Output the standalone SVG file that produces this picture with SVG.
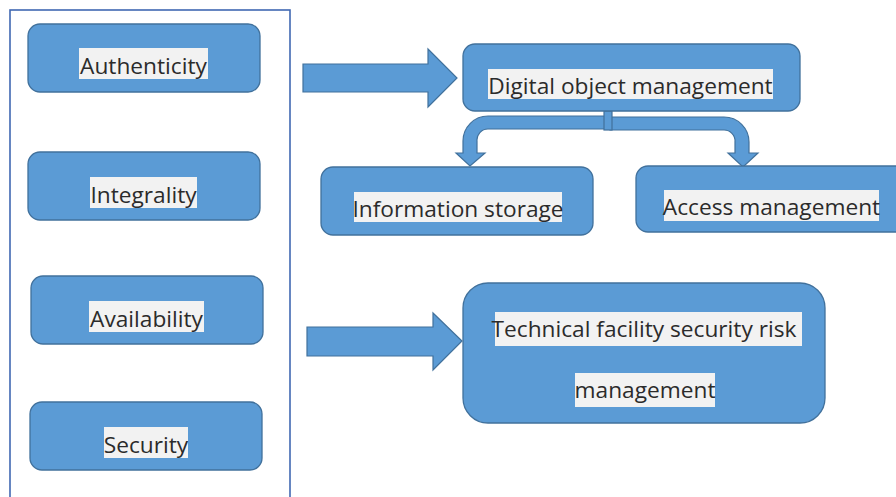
<svg xmlns="http://www.w3.org/2000/svg" width="896" height="497" viewBox="0 0 896 497">
<style>
.box{fill:#5b9bd5;stroke:#41719c;stroke-width:1.3}
.arr{fill:#5b9bd5;stroke:#41719c;stroke-width:1.2}
.bg{fill:#f2f2f2}
.t{font-family:"Open Sans","Noto Sans",sans-serif;font-size:22.7px;fill:#2b2b2b;text-anchor:middle}
.frame{fill:none;stroke:#4068b2;stroke-width:1.6}
</style>
<rect width="896" height="497" fill="#fff"/>
<rect class="frame" x="10" y="10" width="280" height="500"/>
<g id="connectors">
<path class="arr" d="M303 64 L428 64 L428 49 L457 78 L428 107 L428 92 L303 92 Z"/>
<path class="arr" d="M307 327 L433 327 L433 313 L462 341 L433 370 L433 356 L307 356 Z"/>
<path class="arr" d="M606 116 L488 116 A25 25 0 0 0 463 141 L463 153 L456 153 L470 166 L485 153 L477 153 L477 141 A11 11 0 0 1 488 129 L606 129 Z"/>
<path class="arr" d="M610 117 L724 117 A25 25 0 0 1 749 142 L749 153 L758 153 L743 167 L728 153 L735 153 L735 142 A11 11 0 0 0 724 130 L610 130 Z"/>
<rect class="arr" x="604" y="111" width="8" height="19"/>
</g>
<g id="authenticity">
<rect class="box" x="28" y="24" width="232" height="68" rx="12"/>
<rect class="bg" x="79" y="48" width="129" height="31"/>
<text class="t" x="143.5" y="74">Authenticity</text>
</g>
<g id="integrality">
<rect class="box" x="28" y="152" width="232" height="68" rx="12"/>
<rect class="bg" x="90" y="177" width="107" height="31"/>
<text class="t" x="143.5" y="203">Integrality</text>
</g>
<g id="availability">
<rect class="box" x="31" y="276" width="232" height="68" rx="12"/>
<rect class="bg" x="89" y="301" width="115" height="31"/>
<text class="t" x="146.5" y="327">Availability</text>
</g>
<g id="security">
<rect class="box" x="30" y="402" width="232" height="68" rx="12"/>
<rect class="bg" x="104" y="427" width="84" height="31"/>
<text class="t" x="146" y="453">Security</text>
</g>
<g id="digital-object-management">
<rect class="box" x="463" y="44" width="337" height="67" rx="12"/>
<rect class="bg" x="488" y="69" width="285" height="30"/>
<text class="t" x="630.5" y="94">Digital object management</text>
</g>
<g id="information-storage">
<rect class="box" x="321" y="167" width="272" height="68" rx="12"/>
<rect class="bg" x="354" y="192" width="208" height="30"/>
<text class="t" x="458" y="217">Information storage</text>
</g>
<g id="access-management">
<rect class="box" x="636" y="166" width="280" height="66" rx="12"/>
<rect class="bg" x="664" y="190" width="215" height="31"/>
<text class="t" x="771.5" y="215">Access management</text>
</g>
<g id="technical-facility">
<rect class="box" x="463" y="283" width="362" height="140" rx="25"/>
<rect class="bg" x="495" y="312" width="307" height="34"/>
<text class="t" x="644" y="337">Technical facility security risk</text>
<rect class="bg" x="575" y="373" width="140" height="34"/>
<text class="t" x="645" y="398">management</text>
</g>
</svg>
